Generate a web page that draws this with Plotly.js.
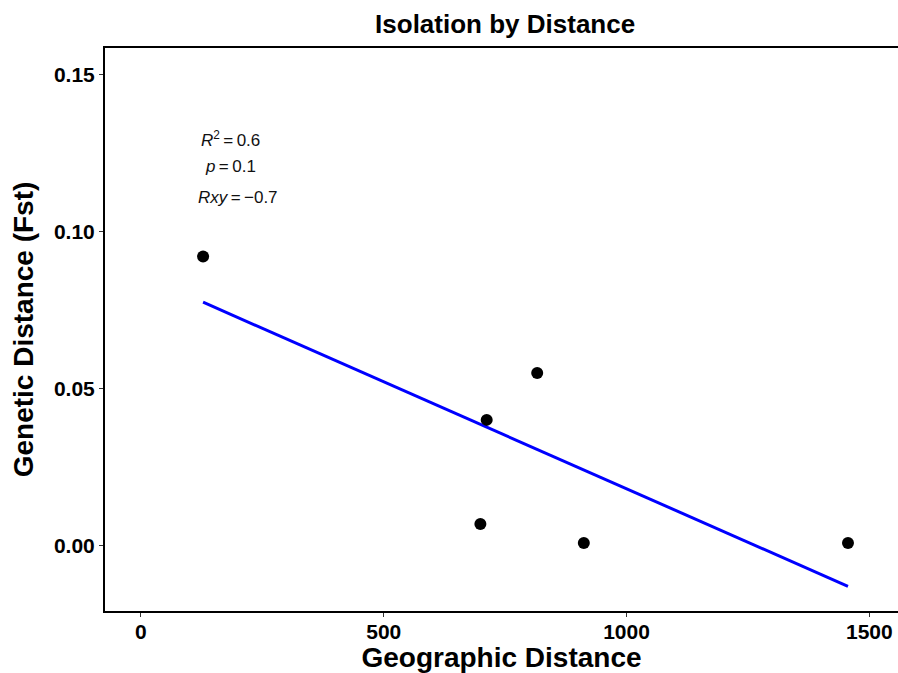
<!DOCTYPE html>
<html>
<head>
<meta charset="utf-8">
<script src="https://cdn.plot.ly/plotly-3.0.1.min.js"></script>
<style>html,body{margin:0;padding:0;background:#fff;}#chart{width:898px;height:673px;}</style>
</head>
<body>
<div id="chart"></div>
<script>
// Data
const geoDistance = [128, 712, 816, 699, 912, 1456];
const fst = [0.0921, 0.0401, 0.0550, 0.0070, 0.0009, 0.0009];
const xTicks = [0, 500, 1000, 1500];
const yTicks = [0, 0.05, 0.10, 0.15];
const statsLines = ["<i>R</i><sup>2</sup>\u2009=\u20090.6", "<i>p</i>\u2009=\u20090.1", "<i>Rxy</i>\u2009=\u2009\u22120.7"];

// Least-squares fit (as geom_smooth(method = "lm"))
const n = geoDistance.length;
const mx = geoDistance.reduce((a, b) => a + b, 0) / n;
const my = fst.reduce((a, b) => a + b, 0) / n;
let sxy = 0, sxx = 0;
for (let i = 0; i < n; i++) { sxy += (geoDistance[i] - mx) * (fst[i] - my); sxx += (geoDistance[i] - mx) ** 2; }
const slope = sxy / sxx, intercept = my - slope * mx;
const xmin = Math.min(...geoDistance), xmax = Math.max(...geoDistance);
const fitX = [xmin, xmax];
const fitY = fitX.map(x => intercept + slope * x);

const FONT = "Liberation Sans, Arial, sans-serif";

const traces = [
  { x: fitX, y: fitY, mode: 'lines', line: { color: '#0000ff', width: 3 }, hoverinfo: 'skip' },
  { x: geoDistance, y: fst, mode: 'markers', marker: { color: '#000', size: 12 } }
];

const annY = [0.1293, 0.1207, 0.1108];
const annX = [185, 185, 199];
const annotations = statsLines.map((t, i) => ({
  x: annX[i], y: annY[i], xref: 'x', yref: 'y', text: t, showarrow: false,
  font: { family: FONT, size: 17, color: '#111' }, xanchor: 'center', yanchor: 'middle'
}));

const layout = {
  width: 898, height: 673,
  margin: { l: 105, r: 0, t: 48, b: 62 },
  paper_bgcolor: '#fff', plot_bgcolor: '#fff',
  showlegend: false,
  title: { text: '<b>Isolation by Distance</b>', x: 0.5625, xanchor: 'center', y: 0.964, yanchor: 'middle',
           font: { family: FONT, size: 26, color: '#000' } },
  xaxis: {
    range: [-74, 1559], tickvals: xTicks, ticktext: xTicks.map(v => '<b>' + v + '</b>'),
    showgrid: false, zeroline: false, showline: true, linecolor: '#000', linewidth: 2, mirror: true,
    ticks: 'outside', ticklen: 4, tickwidth: 1, tickcolor: '#333', ticklabelstandoff: -3,
    tickfont: { family: FONT, size: 21, color: '#000' },
    title: { text: '<b>Geographic Distance</b>', font: { family: FONT, size: 28, color: '#000' }, standoff: 4 }
  },
  yaxis: {
    range: [-0.0207, 0.1584], tickvals: yTicks, ticktext: yTicks.map(v => '<b>' + v.toFixed(2) + '</b>'),
    showgrid: false, zeroline: false, showline: true, linecolor: '#000', linewidth: 2, mirror: false,
    ticks: 'outside', ticklen: 4, tickwidth: 1, tickcolor: '#333',
    tickfont: { family: FONT, size: 21, color: '#000' },
    title: { text: '<b>Genetic Distance (Fst)</b>', font: { family: FONT, size: 28, color: '#000' }, standoff: 12 }
  },
  annotations: annotations
};

Plotly.newPlot('chart', traces, layout, { displayModeBar: false, staticPlot: true });
</script>
</body>
</html>
